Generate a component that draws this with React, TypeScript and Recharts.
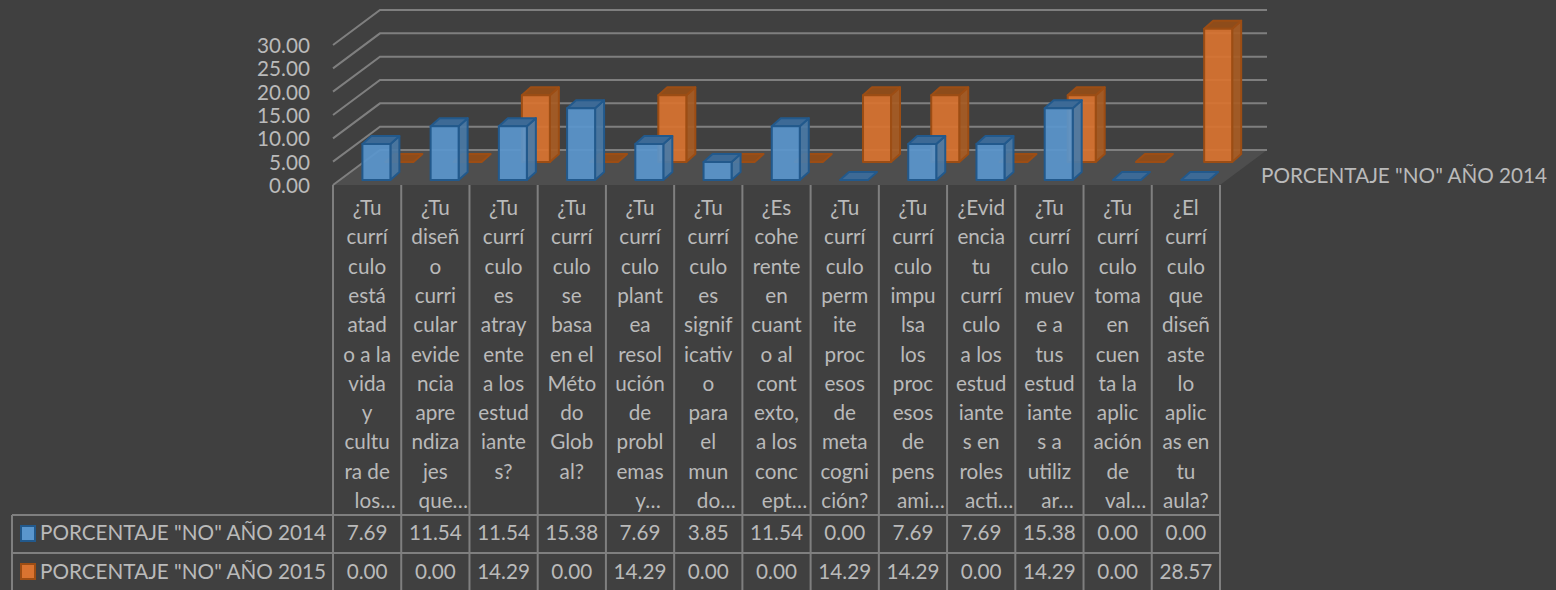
import { BarChart, Bar, XAxis, YAxis, CartesianGrid } from "recharts";

const categoryLines = [
  ["¿Tu", "currí", "culo", "está", "atad", "o a la", "vida", "y", "cultu", "ra de", "los…"],
  ["¿Tu", "diseñ", "o", "curri", "cular", "evide", "ncia", "apre", "ndiza", "jes", "que…"],
  ["¿Tu", "currí", "culo", "es", "atray", "ente", "a los", "estud", "iante", "s?"],
  ["¿Tu", "currí", "culo", "se", "basa", "en el", "Méto", "do", "Glob", "al?"],
  ["¿Tu", "currí", "culo", "plant", "ea", "resol", "ución", "de", "probl", "emas", "y…"],
  ["¿Tu", "currí", "culo", "es", "signif", "icativ", "o", "para", "el", "mun", "do…"],
  ["¿Es", "cohe", "rente", "en", "cuant", "o al", "cont", "exto,", "a los", "conc", "ept…"],
  ["¿Tu", "currí", "culo", "perm", "ite", "proc", "esos", "de", "meta", "cogni", "ción?"],
  ["¿Tu", "currí", "culo", "impu", "lsa", "los", "proc", "esos", "de", "pens", "ami…"],
  ["¿Evid", "encia", "tu", "currí", "culo", "a los", "estud", "iante", "s en", "roles", "acti…"],
  ["¿Tu", "currí", "culo", "muev", "e a", "tus", "estud", "iante", "s a", "utiliz", "ar…"],
  ["¿Tu", "currí", "culo", "toma", "en", "cuen", "ta la", "aplic", "ación", "de", "val…"],
  ["¿El", "currí", "culo", "que", "diseñ", "aste", "lo", "aplic", "as en", "tu", "aula?"],
];
const values2014 = [7.69, 11.54, 11.54, 15.38, 7.69, 3.85, 11.54, 0, 7.69, 7.69, 15.38, 0, 0];
const values2015 = [0, 0, 14.29, 0, 14.29, 0, 0, 14.29, 14.29, 0, 14.29, 0, 28.57];
const yTicks = [0, 5, 10, 15, 20, 25, 30];
const series2014 = 'PORCENTAJE "NO" AÑO 2014';
const series2015 = 'PORCENTAJE "NO" AÑO 2015';

const data = categoryLines.map((lines, i) => ({
  name: lines.join(""),
  v2014: values2014[i],
  v2015: values2015[i],
}));

const FONT = "Lato, sans-serif";
const FONT_SIZE = 20.7;
const TEXT = "#bababa";
const LINE = "#7f7f7f";
const LINE_W = 2;
const BG = "#404040";
const COL = 887 / 13;
const DEPTH_X = 47;
const DEPTH_Y = 35;

const blue = { front: "#5a96cd", side: "#4a7aa6", top: "#3d6a96", stroke: "#22598c" };
const orange = { front: "#d97330", side: "#a85c24", top: "#8e4c1a", stroke: "#9c4d14" };

// fake 3D box around the rect recharts gives us
function box(colors, shiftX, lift) {
  return (props) => {
    const x = props.x + shiftX;
    const y = props.y - lift;
    const w = props.width;
    const h = Math.max(props.height, 0);
    const dx = 9;
    const dy = 8;
    return (
      <g stroke={colors.stroke} strokeWidth={2} strokeLinejoin="round">
        {h > 0 && (
          <path
            d={`M${x + w} ${y}L${x + w + dx} ${y - dy}V${y + h - dy}L${x + w} ${y + h}Z`}
            fill={colors.side}
            fillOpacity={0.92}
          />
        )}
        <path
          d={`M${x} ${y}L${x + dx} ${y - dy}H${x + w + dx}L${x + w} ${y}Z`}
          fill={colors.top}
        />
        {h > 0 && <rect x={x} y={y} width={w} height={h} fill={colors.front} fillOpacity={0.92} />}
      </g>
    );
  };
}

function WallLine(props) {
  const { x1, x2, y1, index } = props;
  const backY = y1 - DEPTH_Y;
  return (
    <g key={index}>
      {index === 0 && (
        <polygon
          points={`${x1},${y1} ${x2},${y1} ${x2 + DEPTH_X},${backY} ${x1 + DEPTH_X},${backY}`}
          fill="#4e4e4e"
        />
      )}
      <polyline
        points={`${x1},${y1} ${x1 + DEPTH_X},${backY} ${x2 + DEPTH_X},${backY}`}
        fill="none"
        stroke={LINE}
        strokeWidth={LINE_W}
      />
    </g>
  );
}

function ValueTick({ x, y, payload }) {
  return (
    <text
      x={x - 15}
      y={y}
      textAnchor="end"
      dominantBaseline="central"
      fontFamily={FONT}
      fontSize={FONT_SIZE}
      fill={TEXT}
    >
      {payload.value.toFixed(2)}
    </text>
  );
}

const TABLE_TOP = 515;
const TABLE_MID = 553;
const TABLE_BOTTOM = 590;
const TABLE_LEFT = 12;

function CategoryTick({ x, index }) {
  const left = x - COL / 2;
  const right = x + COL / 2;
  const lines = categoryLines[index];
  const txt = { fontFamily: FONT, fontSize: FONT_SIZE, fill: TEXT, textAnchor: "middle" };
  const rule = { stroke: LINE, strokeWidth: LINE_W };
  return (
    <g>
      <line x1={left} x2={left} y1={185} y2={TABLE_BOTTOM} {...rule} />
      {index === categoryLines.length - 1 && (
        <line x1={right} x2={right} y1={185} y2={TABLE_BOTTOM} {...rule} />
      )}
      {lines.map((line, i) => (
        <text key={i} x={line.endsWith("…") ? x + 8 : x} y={215 + i * 29.3} {...txt}>
          {line}
        </text>
      ))}
      <text x={x} y={540} {...txt}>{values2014[index].toFixed(2)}</text>
      <text x={x} y={579} {...txt}>{values2015[index].toFixed(2)}</text>
      {index === 0 && (
        <g>
          <line x1={TABLE_LEFT} x2={left} y1={TABLE_TOP} y2={TABLE_TOP} {...rule} />
          <line x1={TABLE_LEFT} x2={left} y1={TABLE_MID} y2={TABLE_MID} {...rule} />
          <line x1={TABLE_LEFT} x2={TABLE_LEFT} y1={TABLE_TOP} y2={TABLE_BOTTOM} {...rule} />
          <rect x={21} y={526} width={14} height={15} fill={blue.front} stroke={blue.stroke} strokeWidth={2} />
          <rect x={21} y={564} width={14} height={15} fill={orange.front} stroke={orange.stroke} strokeWidth={2} />
          <text x={40} y={540} {...txt} textAnchor="start">{series2014}</text>
          <text x={40} y={579} {...txt} textAnchor="start">{series2015}</text>
        </g>
      )}
      <line x1={left} x2={right} y1={TABLE_TOP} y2={TABLE_TOP} {...rule} />
      <line x1={left} x2={right} y1={TABLE_MID} y2={TABLE_MID} {...rule} />
    </g>
  );
}

export default function App() {
  return (
    <div
      style={{
        position: "absolute",
        left: 0,
        top: 0,
        width: 1556,
        height: 590,
        overflow: "hidden",
        background: BG,
      }}
    >
      <BarChart
        width={1556}
        height={590}
        data={data}
        margin={{ top: 45, right: 336, bottom: 0, left: 253 }}
        barSize={28}
        barGap={-5}
      >
        <CartesianGrid vertical={false} horizontal={(p) => <WallLine {...p} />} />
        <XAxis
          dataKey="name"
          height={405}
          interval={0}
          axisLine={false}
          tickLine={false}
          tick={(p) => <CategoryTick x={p.x} index={p.index} />}
        />
        <YAxis
          width={80}
          domain={[0, 30]}
          ticks={yTicks}
          interval={0}
          axisLine={false}
          tickLine={false}
          tick={(p) => <ValueTick {...p} />}
        />
        {/* orange goes first so blue paints over it */}
        <Bar dataKey="v2015" isAnimationActive={false} shape={box(orange, 43.4, 23)} />
        <Bar dataKey="v2014" isAnimationActive={false} shape={box(blue, -2.6, 5)} />
      </BarChart>
      <div
        style={{
          position: "absolute",
          left: 1261,
          top: 163,
          fontFamily: FONT,
          fontSize: FONT_SIZE,
          color: TEXT,
          whiteSpace: "nowrap",
        }}
      >
        {series2014}
      </div>
    </div>
  );
}
